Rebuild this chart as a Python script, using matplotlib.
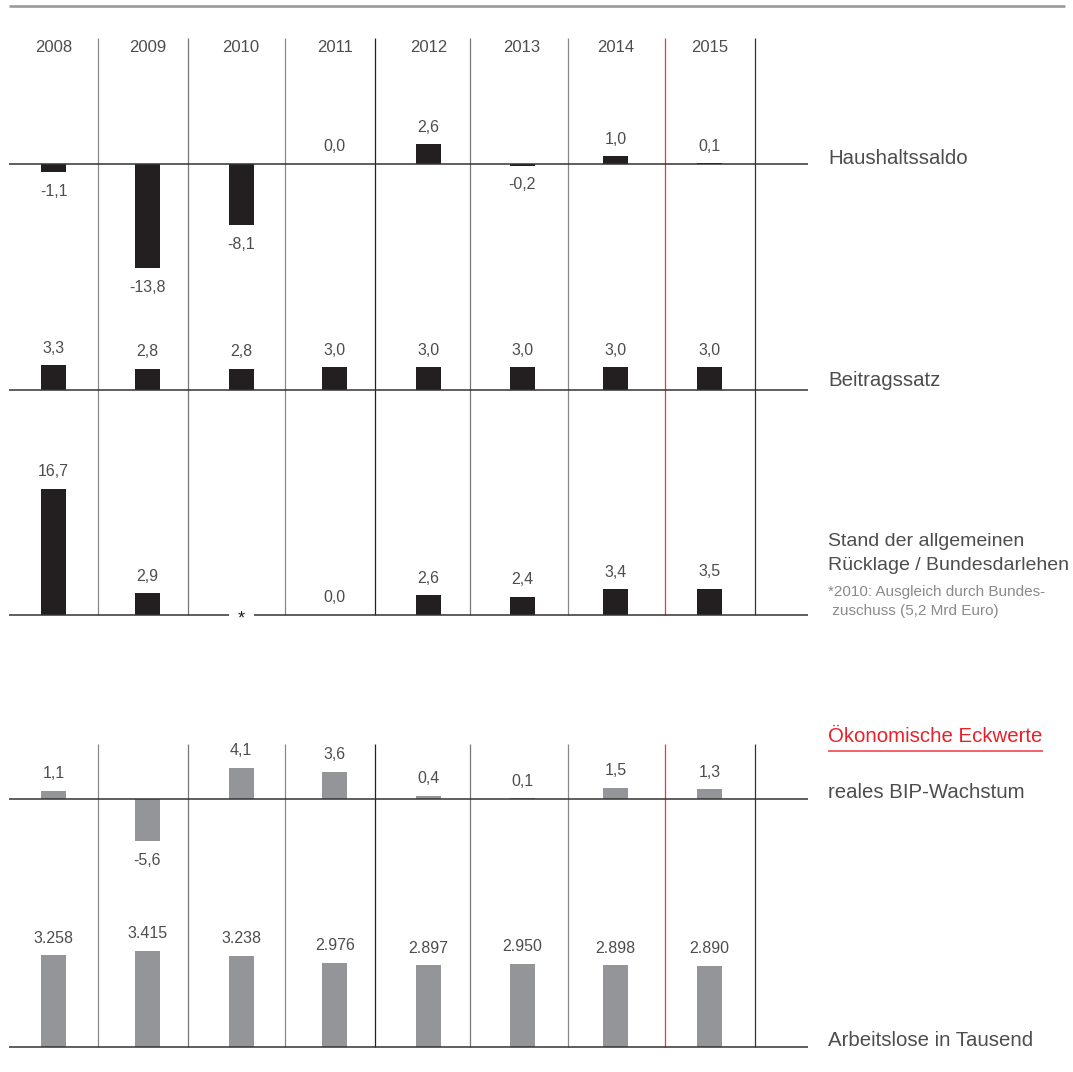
import numpy as np
import matplotlib
matplotlib.use("Agg")
import matplotlib.pyplot as plt

plt.rcParams['font.family'] = ['Liberation Sans', 'DejaVu Sans']

# datos
anios = ['2008', '2009', '2010', '2011', '2012', '2013', '2014', '2015']
haushaltssaldo = [-1.1, -13.8, -8.1, 0.0, 2.6, -0.2, 1.0, 0.1]
beitragssatz = [3.3, 2.8, 2.8, 3.0, 3.0, 3.0, 3.0, 3.0]
ruecklage = [16.7, 2.9, np.nan, 0.0, 2.6, 2.4, 3.4, 3.5]   # 2010: ver nota *
bip = [1.1, -5.6, 4.1, 3.6, 0.4, 0.1, 1.5, 1.3]
arbeitslose = [3258, 3415, 3238, 2976, 2897, 2950, 2898, 2890]

W, H = 1073, 1072
X0, PASO = 53.6, 93.7          # centro de la primera columna y ancho de columna (px)
ESC = 7.55                     # px por unidad en los paneles superiores
ESC_AL = 0.0282                # px por mil desempleados

NEGRO = '#231f20'
GRIS_BARRA = '#939598'
GRIS_TXT = '#4d4d4d'
ROJO = '#e8202a'

x = np.arange(len(anios))
xlim = ((0 - X0) / PASO, (W - X0) / PASO)


def px(v):
    # posición horizontal en px -> unidades de columna
    return (v - X0) / PASO


def coma(v):
    return f"{v:.1f}".replace('.', ',')


def miles(v):
    return f"{v:,}".replace(',', '.')


fig = plt.figure(figsize=(W / 100, H / 100), dpi=100)

# eje de fondo (y en px) para líneas y textos
fondo = fig.add_axes([0, 0, 1, 1])
fondo.set_xlim(*xlim)
fondo.set_ylim(H, 0)
fondo.axis('off')

fondo.hlines(6, px(9), px(1065), color='#9a9a9a', lw=1.9)

sep_x = [98, 188, 285, 375, 470, 568, 665, 755]
sep_col = ['#888888', '#777777', '#888888', '#222222', '#777777', '#888888', '#f2323c', '#333333']
for sx, sc in zip(sep_x, sep_col):
    fondo.vlines(px(sx), 38, 615, color=sc, lw=0.9)
    fondo.vlines(px(sx), 744, 1047, color=sc, lw=0.9)

for xi, a in zip(x, anios):
    fondo.text(xi, 48, a, ha='center', va='center', fontsize=12, color=GRIS_TXT)


def panel(arriba, abajo, base, esc):
    ax = fig.add_axes([0, 1 - abajo / H, 1, (abajo - arriba) / H])
    ax.set_xlim(*xlim)
    ax.set_ylim(-(abajo - base) / esc, (base - arriba) / esc)
    ax.axis('off')
    ax.patch.set_alpha(0)
    return ax


def etiquetas(ax, vals, fmt):
    for xi, v in zip(x, vals):
        if np.isnan(v):
            continue
        off = -13.7 if v < 0 else 12.3
        ax.annotate(fmt(v), (xi, v), xytext=(0, off), textcoords='offset points',
                    ha='center', va='center', fontsize=11.5, color=GRIS_TXT)


ancho = 25 / PASO

# Haushaltssaldo
ax1 = panel(38, 300, 164, ESC)
ax1.bar(x, haushaltssaldo, width=ancho, color=NEGRO)
ax1.hlines(0, px(9), px(808), color='#333333', lw=1.1)
etiquetas(ax1, haushaltssaldo, coma)

# Beitragssatz
ax2 = panel(300, 392, 390, ESC)
ax2.bar(x, beitragssatz, width=ancho, color=NEGRO)
ax2.hlines(0, px(9), px(808), color='#333333', lw=1.1)
etiquetas(ax2, beitragssatz, coma)

# Rücklage / Bundesdarlehen
ax3 = panel(392, 640, 615, ESC)
r = np.array(ruecklage)
ok = ~np.isnan(r)
ax3.bar(x[ok], r[ok], width=ancho, color=NEGRO)
hueco = x[np.isnan(r)][0]
ax3.hlines(0, px(9), hueco - ancho / 2, color='#333333', lw=1.1)
ax3.hlines(0, hueco + ancho / 2, px(808), color='#333333', lw=1.1)
ax3.annotate('*', (hueco, 0), xytext=(0, -3), textcoords='offset points',
             ha='center', va='center', fontsize=13, color=NEGRO)
etiquetas(ax3, ruecklage, coma)

# reales BIP-Wachstum
ax4 = panel(744, 900, 799, ESC)
ax4.bar(x, bip, width=ancho, color=GRIS_BARRA)
ax4.hlines(0, px(9), px(808), color='#333333', lw=1.1)
etiquetas(ax4, bip, coma)

# Arbeitslose
ax5 = panel(900, 1060, 1047, ESC_AL)
ax5.bar(x, arbeitslose, width=ancho, color=GRIS_BARRA)
ax5.hlines(0, px(9), px(808), color='#333333', lw=1.1)
etiquetas(ax5, arbeitslose, miles)

# textos de la derecha
tx = px(828)
fs = 14.7
fondo.text(tx, 158, 'Haushaltssaldo', va='center', fontsize=fs, color=GRIS_TXT)
fondo.text(tx, 381, 'Beitragssatz', va='center', fontsize=fs, color=GRIS_TXT)
fondo.text(tx, 541, 'Stand der allgemeinen', va='center', fontsize=14, color=GRIS_TXT)
fondo.text(tx, 566, 'Rücklage / Bundesdarlehen', va='center', fontsize=14, color=GRIS_TXT)
fondo.text(tx, 592, '*2010: Ausgleich durch Bundes-', va='center', fontsize=11, color='#8a8a8a')
fondo.text(tx, 611, ' zuschuss (5,2 Mrd Euro)', va='center', fontsize=11, color='#8a8a8a')
fondo.text(tx, 737, 'Ökonomische Eckwerte', va='center', fontsize=fs, color=ROJO)
fondo.hlines(751, px(828), px(1043), color='#f0555c', lw=1.3)
fondo.text(tx, 793, 'reales BIP-Wachstum', va='center', fontsize=fs, color=GRIS_TXT)
fondo.text(tx, 1040, 'Arbeitslose in Tausend', va='center', fontsize=fs, color=GRIS_TXT)

fig.savefig('out.png', dpi=100)
